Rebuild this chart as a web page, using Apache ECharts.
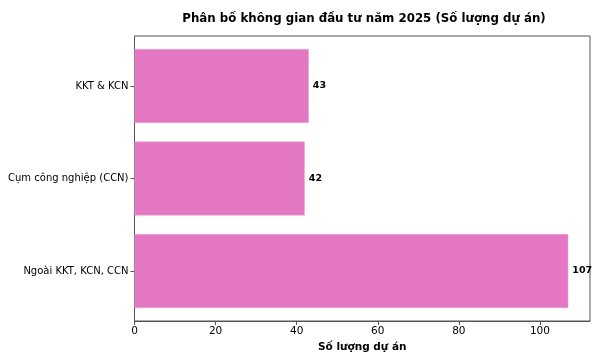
<!DOCTYPE html>
<html><head><meta charset="utf-8">
<script src="https://cdn.jsdelivr.net/npm/echarts@6/dist/echarts.min.js"></script>
<style>html,body{margin:0;padding:0;background:#fff}#c{width:600px;height:360px}</style>
</head><body><div id="c"></div>
<script>
const categories = ['KKT & KCN', 'Cụm công nghiệp (CCN)', 'Ngoài KKT, KCN, CCN'];
const values = [43, 42, 107];
const xTicks = [0, 20, 40, 60, 80, 100];
const titleText = 'Phân bố không gian đầu tư năm 2025 (Số lượng dự án)';
const xName = 'Số lượng dự án';

const xMax = 112.35;
const font = 'DejaVu Sans';
const chart = echarts.init(document.getElementById('c'), null, {renderer: 'canvas'});
chart.setOption({
  animation: false,
  title: {text: titleText, left: 359, top: 8, textAlign: 'center',
    textStyle: {fontFamily: font, fontSize: 11.8, fontWeight: 'bold', color: '#000'}},
  grid: [
    {left: 134.5, right: 10, top: 36, bottom: 39, show: true, borderColor: '#555', borderWidth: 1, backgroundColor: 'transparent'},
    {left: 134.5, right: 10, top: 39.75, bottom: 42.75}
  ],
  xAxis: [
    {gridIndex: 0, type: 'value', min: 0, max: xMax, interval: 20,
      splitLine: {show: false},
      axisLine: {show: true, lineStyle: {color: '#555'}},
      axisTick: {show: true, length: 4, lineStyle: {color: '#555'}},
      axisLabel: {fontFamily: font, fontSize: 10.5, color: '#000', margin: 5,
        showMaxLabel: false,
        formatter: v => xTicks.includes(v) ? String(v) : ''},
      name: xName, nameLocation: 'middle', nameGap: 19,
      nameTextStyle: {fontFamily: font, fontSize: 10.5, fontWeight: 'bold', color: '#000'}},
    {gridIndex: 1, type: 'value', min: 0, max: xMax, show: false, splitLine: {show: false}}
  ],
  yAxis: [
    {gridIndex: 0, type: 'value', min: 0, max: 1, show: false, splitLine: {show: false}},
    {gridIndex: 1, type: 'category', data: categories, inverse: true,
      axisLine: {show: false},
      axisTick: {show: true, alignWithLabel: true, length: 4, lineStyle: {color: '#555'}},
      axisLabel: {fontFamily: font, fontSize: 10, color: '#000', margin: 6}}
  ],
  series: [{
    type: 'bar', xAxisIndex: 1, yAxisIndex: 1, data: values,
    barCategoryGap: '20%',
    itemStyle: {color: '#e377c2', borderColor: '#eda6da', borderWidth: 0.6},
    label: {show: true, position: 'right', distance: 4, fontFamily: font, fontSize: 9.5, fontWeight: 'bold', color: '#000'}
  }]
});
</script></body></html>
